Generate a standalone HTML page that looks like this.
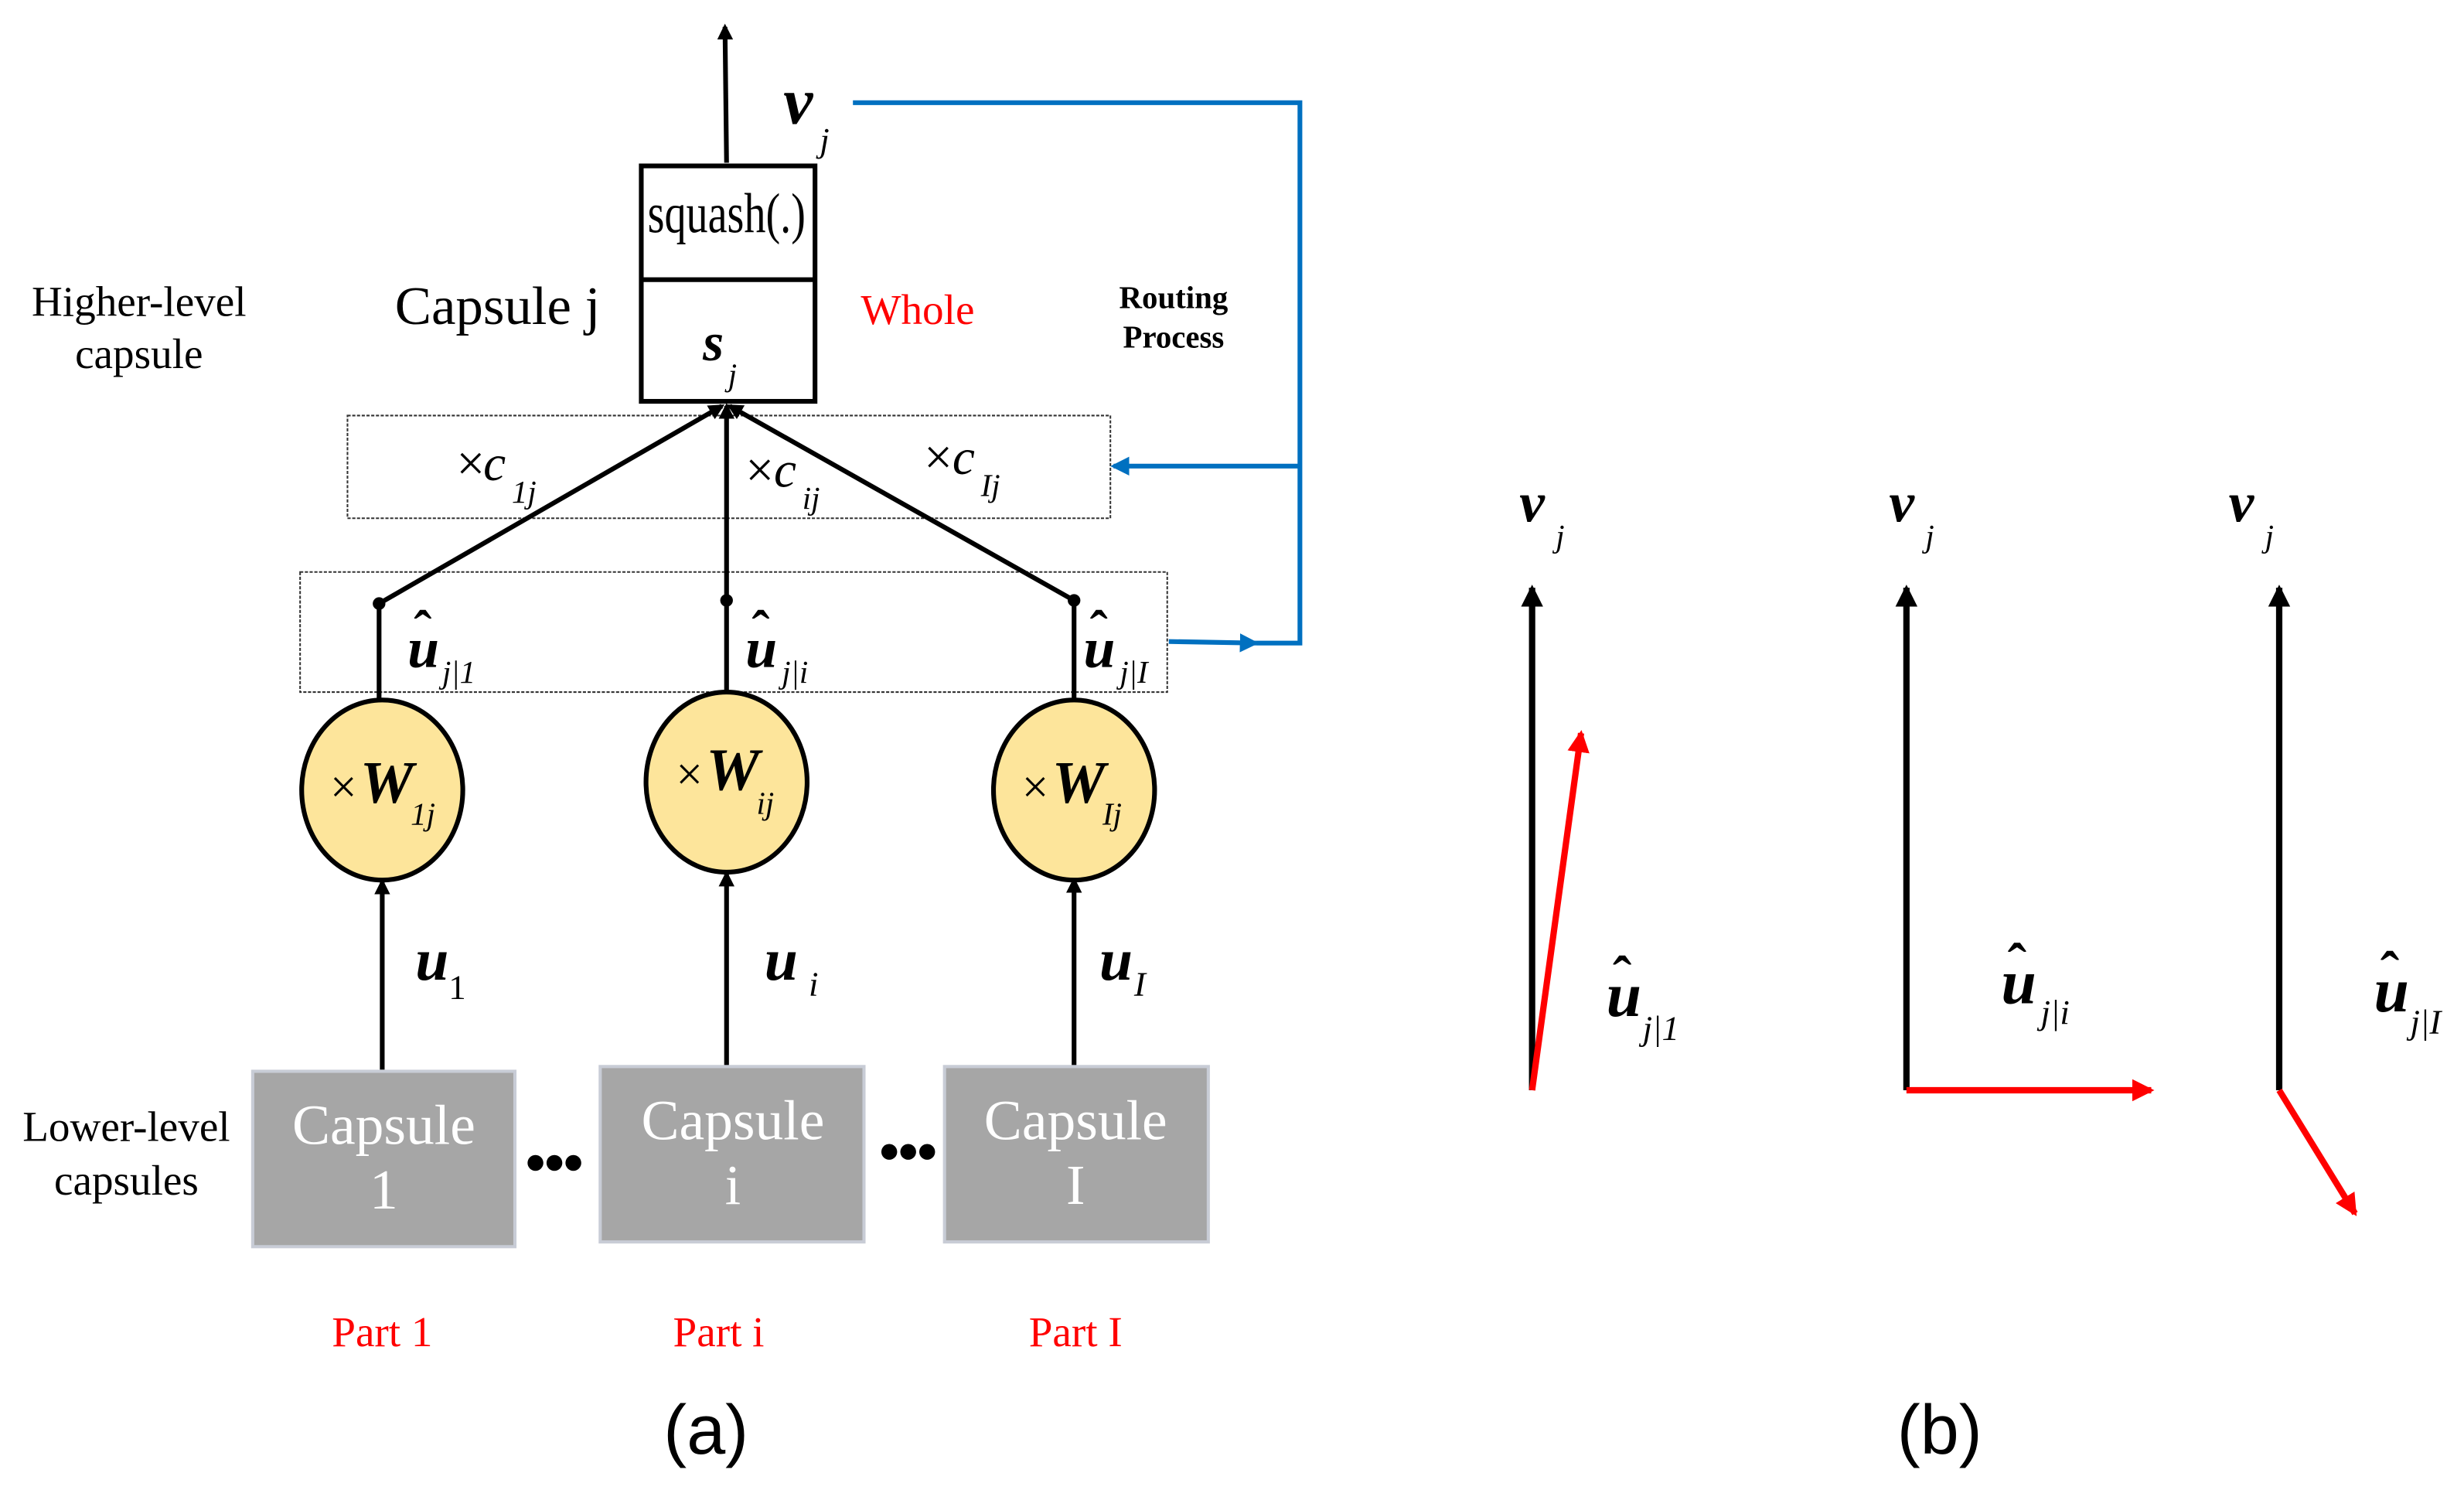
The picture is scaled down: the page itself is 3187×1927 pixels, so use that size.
<!DOCTYPE html>
<html><head><meta charset="utf-8"><style>
html,body{margin:0;padding:0;background:#fff;}
svg{display:block;}
.t{font-family:"Liberation Serif",serif;}
.m{font-family:"Liberation Serif",serif;font-style:italic;}
</style></head><body>
<svg width="3187" height="1927" viewBox="0 0 1560 943" preserveAspectRatio="none" xmlns="http://www.w3.org/2000/svg">
<defs>
<marker id="ab" markerWidth="10" markerHeight="10" refX="8" refY="5" orient="auto" markerUnits="userSpaceOnUse" viewBox="0 0 10 10"><path d="M0,0 L10,5 L0,10 z" fill="#000"/></marker>
<marker id="abl" markerWidth="12" markerHeight="12" refX="10" refY="6" orient="auto" markerUnits="userSpaceOnUse" viewBox="0 0 12 12"><path d="M0,0 L12,6 L0,12 z" fill="#0070c0"/></marker>
<marker id="ar" markerWidth="14" markerHeight="14" refX="12" refY="7" orient="auto" markerUnits="userSpaceOnUse" viewBox="0 0 14 14"><path d="M0,0 L14,7 L0,14 z" fill="#ff0000"/></marker>
<marker id="ab2" markerWidth="14" markerHeight="14" refX="12" refY="7" orient="auto" markerUnits="userSpaceOnUse" viewBox="0 0 14 14"><path d="M0,0 L14,7 L0,14 z" fill="#000"/></marker>
</defs>
<g fill="none" stroke="#000" stroke-width="3">
<line x1="460" y1="103" x2="459" y2="17" marker-end="url(#ab)"/>
<rect x="406" y="105" width="110" height="149"/>
<line x1="406" y1="177" x2="516" y2="177"/>
</g>
<rect x="220" y="263" width="483" height="65" fill="none" stroke="#333" stroke-width="1" stroke-dasharray="2,1"/>
<rect x="190" y="362" width="549" height="76" fill="none" stroke="#333" stroke-width="1" stroke-dasharray="2,1"/>
<g stroke="#0070c0" stroke-width="3" fill="none">
<polyline points="540,65 823,65 823,407 795,407"/>
<line x1="823" y1="295" x2="705" y2="295" marker-end="url(#abl)"/>
<line x1="740" y1="406" x2="795" y2="407" marker-end="url(#abl)"/>
</g>
<g stroke="#000" stroke-width="3" fill="none">
<line x1="240" y1="382" x2="457" y2="257" marker-end="url(#ab)"/>
<line x1="460" y1="380" x2="460" y2="257" marker-end="url(#ab)"/>
<line x1="680" y1="380" x2="462" y2="257" marker-end="url(#ab)"/>
<line x1="240" y1="382" x2="240" y2="443"/>
<line x1="460" y1="380" x2="460" y2="440"/>
<line x1="680" y1="380" x2="680" y2="443"/>
<line x1="242" y1="677" x2="242" y2="558" marker-end="url(#ab)"/>
<line x1="460" y1="675" x2="460" y2="553" marker-end="url(#ab)"/>
<line x1="680" y1="675" x2="680" y2="557" marker-end="url(#ab)"/>
</g>
<g fill="#000"><circle cx="240" cy="382" r="4"/><circle cx="460" cy="380" r="4"/><circle cx="680" cy="380" r="4"/></g>
<g fill="#fde59b" stroke="#000" stroke-width="3">
<ellipse cx="242" cy="500" rx="51" ry="57"/>
<ellipse cx="460" cy="495" rx="51" ry="57"/>
<ellipse cx="680" cy="500" rx="51" ry="57"/>
</g>
<g fill="#a6a6a6" stroke="#c8ccd6" stroke-width="2">
<rect x="160" y="678" width="166" height="111"/>
<rect x="380" y="675" width="167" height="111"/>
<rect x="598" y="675" width="167" height="111"/>
</g>
<g class="t" fill="#fff" font-size="36" text-anchor="middle">
<text x="243" y="724">Capsule</text><text x="243" y="765">1</text>
<text x="464" y="721">Capsule</text><text x="464" y="762">i</text>
<text x="681" y="721">Capsule</text><text x="681" y="762">I</text>
</g>
<g fill="#000"><circle cx="339" cy="736" r="5"/><circle cx="351" cy="736" r="5"/><circle cx="363" cy="736" r="5"/>
<circle cx="563" cy="729" r="5"/><circle cx="575" cy="729" r="5"/><circle cx="587" cy="729" r="5"/></g>
<g class="t" fill="#000">
<text x="460" y="147" font-size="36" text-anchor="middle" textLength="100" lengthAdjust="spacingAndGlyphs">squash(.)</text>
<text x="250" y="205" font-size="34" textLength="130" lengthAdjust="spacingAndGlyphs">Capsule j</text>
<text x="88" y="200" font-size="27" text-anchor="middle">Higher-level</text>
<text x="88" y="233" font-size="27" text-anchor="middle">capsule</text>
<text x="80" y="722" font-size="27" text-anchor="middle">Lower-level</text>
<text x="80" y="756" font-size="27" text-anchor="middle">capsules</text>
<text x="743" y="195" font-size="20" font-weight="bold" text-anchor="middle">Routing</text>
<text x="743" y="220" font-size="20" font-weight="bold" text-anchor="middle">Process</text>
</g>
<g class="t" fill="#ff0000" font-size="27" text-anchor="middle">
<text x="581" y="205">Whole</text>
<text x="242" y="852">Part 1</text>
<text x="455" y="852">Part i</text>
<text x="681" y="852">Part I</text>
</g>
<g font-family="'Liberation Sans',sans-serif" font-size="44" text-anchor="middle" fill="#000">
<text x="447" y="920">(a)</text><text x="1228" y="920">(b)</text>
</g>
<g class="m" fill="#000">
<text x="496" y="78" font-size="42" font-weight="bold">v</text><text x="519" y="96" font-size="22">j</text>
<text x="445" y="228" font-size="34" font-weight="bold">s</text><text x="461" y="244" font-size="20">j</text>
<text x="289" y="304" font-size="32" font-style="normal">×</text><text x="306" y="304" font-size="32">c</text><text x="324" y="318" font-size="20">1j</text>
<text x="472" y="308" font-size="32" font-style="normal">×</text><text x="490" y="308" font-size="32">c</text><text x="508" y="322" font-size="20">ij</text>
<text x="585" y="300" font-size="32" font-style="normal">×</text><text x="603" y="300" font-size="32">c</text><text x="621" y="314" font-size="20">Ij</text>
<g font-size="36" font-weight="bold">
<text x="258" y="422">u</text><text x="472" y="422">u</text><text x="686" y="422">u</text>
</g>
<g font-size="34" font-weight="bold" font-style="normal">
<text x="262" y="410">ˆ</text><text x="476" y="410">ˆ</text><text x="690" y="410">ˆ</text>
</g>
<g font-size="20"><text x="280" y="432">j|1</text><text x="495" y="432">j|i</text><text x="709" y="432">j|I</text></g>
<text x="209" y="508" font-size="30" font-style="normal">×</text><text x="228" y="508" font-size="38" font-weight="bold">W</text><text x="260" y="522" font-size="20">1j</text>
<text x="428" y="500" font-size="30" font-style="normal">×</text><text x="447" y="500" font-size="38" font-weight="bold">W</text><text x="479" y="515" font-size="20">ij</text>
<text x="647" y="508" font-size="30" font-style="normal">×</text><text x="666" y="508" font-size="38" font-weight="bold">W</text><text x="698" y="522" font-size="20">Ij</text>
<text x="263" y="620" font-size="38" font-weight="bold">u</text><text x="284" y="632" font-size="22" font-style="normal">1</text>
<text x="484" y="620" font-size="38" font-weight="bold">u</text><text x="512" y="630" font-size="22">i</text>
<text x="696" y="620" font-size="38" font-weight="bold">u</text><text x="718" y="630" font-size="22">I</text>
<text x="962" y="330" font-size="36" font-weight="bold">v</text><text x="985" y="346" font-size="20">j</text>
<text x="1196" y="330" font-size="36" font-weight="bold">v</text><text x="1219" y="346" font-size="20">j</text>
<text x="1411" y="330" font-size="36" font-weight="bold">v</text><text x="1434" y="346" font-size="20">j</text>
<g font-size="40" font-weight="bold"><text x="1017" y="643">u</text><text x="1267" y="635">u</text><text x="1503" y="640">u</text></g>
<g font-size="36" font-weight="bold" font-style="normal"><text x="1021" y="630">ˆ</text><text x="1271" y="622">ˆ</text><text x="1507" y="627">ˆ</text></g>
<g font-size="22"><text x="1040" y="658">j|1</text><text x="1292" y="648">j|i</text><text x="1526" y="654">j|I</text></g>
</g>
<g stroke="#000" stroke-width="4">
<line x1="970" y1="690" x2="970" y2="372" marker-end="url(#ab2)"/>
<line x1="1207" y1="690" x2="1207" y2="372" marker-end="url(#ab2)"/>
<line x1="1443" y1="690" x2="1443" y2="372" marker-end="url(#ab2)"/>
</g>
<g stroke="#ff0000" stroke-width="4">
<line x1="970" y1="690" x2="1001" y2="464" marker-end="url(#ar)"/>
<line x1="1207" y1="690" x2="1362" y2="690" marker-end="url(#ar)"/>
<line x1="1443" y1="690" x2="1491" y2="768" marker-end="url(#ar)"/>
</g>
</svg>
</body></html>
